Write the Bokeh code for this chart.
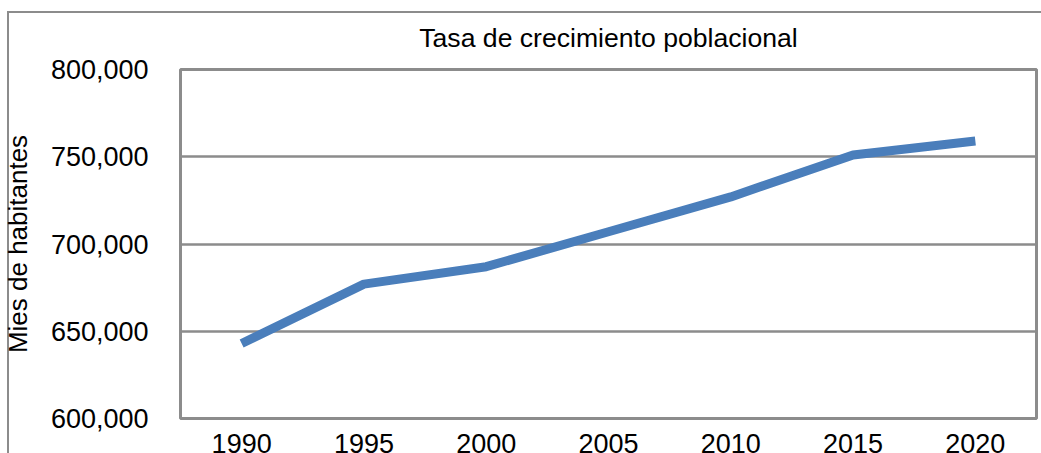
from bokeh.plotting import figure
from bokeh.models import FixedTicker, NumeralTickFormatter, Range1d
from bokeh.embed import file_html
from bokeh.resources import INLINE

years = [1990, 1995, 2000, 2005, 2010, 2015, 2020]
population = [643000, 677000, 687000, 707000, 727000, 751000, 759000]
y_ticks = [600000, 650000, 700000, 750000, 800000]
title_text = "Tasa de crecimiento poblacional"

FONT = "Liberation Sans"
GRAY = "#8c8c8c"

p = figure(width=1060, height=470, output_backend="svg", toolbar_location=None,
           x_range=Range1d(1987.5, 2022.5), y_range=Range1d(600000, 800000),
           min_border_left=181, min_border_right=23, min_border_top=66, min_border_bottom=55,
           title=title_text)

p.styles = {
    "position": "fixed", "left": "-1px", "top": "3px",
    "background": ("linear-gradient(#8c8c8c, #8c8c8c) 8px 8px / 2px 100% no-repeat, "
                   "linear-gradient(#8c8c8c, #8c8c8c) 8px 8px / 100% 2px no-repeat, #ffffff"),
}

p.line(years, population, line_color="#4a7ebb", line_width=9)

p.title.align = "center"
p.title.text_font = FONT
p.title.text_font_size = "26.6px"
p.title.text_font_style = "normal"
p.title.text_color = "black"
p.title.standoff = 33

p.outline_line_color = GRAY
p.outline_line_width = 3
p.background_fill_color = "white"
p.border_fill_color = None

p.xaxis.ticker = FixedTicker(ticks=years)
p.yaxis.ticker = FixedTicker(ticks=y_ticks)
p.yaxis.formatter = NumeralTickFormatter(format="0,0")

for ax in (p.xaxis, p.yaxis):
    ax.axis_line_color = None
    ax.major_tick_line_color = None
    ax.minor_tick_line_color = None
    ax.major_label_text_font = FONT
    ax.major_label_text_font_size = "27px"
    ax.major_label_text_color = "black"

p.xaxis.major_label_standoff = 9
p.yaxis.major_label_standoff = 26
p.yaxis.axis_label = "Mies de habitantes"
p.yaxis.axis_label_text_font = FONT
p.yaxis.axis_label_text_font_size = "26px"
p.yaxis.axis_label_text_font_style = "normal"
p.yaxis.axis_label_text_color = "black"
p.yaxis.axis_label_standoff = 15

p.xgrid.grid_line_color = None
p.ygrid.grid_line_color = GRAY
p.ygrid.grid_line_width = 2.5

open("out.html", "w").write(file_html(p, INLINE))
